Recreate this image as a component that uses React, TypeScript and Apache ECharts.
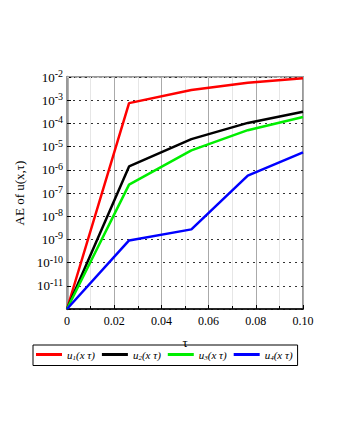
import React, { useEffect, useRef } from "react";
import * as echarts from "echarts";

const tau = [0, 0.0263, 0.0527, 0.0766, 0.1];
const u1 = [1e-12, 7.5e-4, 2.75e-3, 5.6e-3, 8.8e-3];
const u2 = [1e-12, 1.4e-6, 2.1e-5, 1.05e-4, 3.2e-4];
const u3 = [1e-12, 2.3e-7, 6.9e-6, 5.1e-5, 1.9e-4];
const u4 = [1e-12, 9e-10, 2.7e-9, 5.6e-7, 5.6e-6];
const seriesNames = ["1", "2", "3", "4"];
const seriesColors = ["#ff0000", "#000000", "#00ee00", "#0000ff"];
const minorGridValues = [5e-3, 5e-4, 5e-5, 5e-6, 5e-7, 5e-8, 5e-9, 5e-10, 5e-11, 5e-12];
const xTickLabels = ["0", "0.02", "0.04", "0.06", "0.08", "0.10"];

const serif = "Liberation Serif";

export default function App() {
  const ref = useRef<HTMLDivElement>(null);
  useEffect(() => {
    if (!ref.current) return;
    const chart = echarts.init(ref.current, undefined, { renderer: "svg" });
    const all = [u1, u2, u3, u4];
    const series: any[] = all.map((vals, i) => ({
      name: seriesNames[i],
      type: "line",
      data: tau.map((t, j) => [t, vals[j]]),
      symbol: "none",
      lineStyle: { color: seriesColors[i], width: 2.5 },
      itemStyle: { color: seriesColors[i] },
      z: 5 + i,
    }));
    series.unshift({
      name: "minor",
      type: "line",
      data: [],
      silent: true,
      z: 1,
      markLine: {
        silent: true,
        symbol: "none",
        label: { show: false },
        lineStyle: { color: "#c8c8c8", type: [2, 3], width: 1 },
        data: minorGridValues.map((v) => ({ yAxis: v })),
      },
    });
    chart.setOption({
      animation: false,
      textStyle: { fontFamily: serif },
      grid: {
        left: 67,
        top: 77,
        right: 35,
        bottom: 128,
        show: true,
        borderColor: "#999",
        borderWidth: 2,
      },
      legend: {
        data: seriesNames,
        left: 33,
        top: 345,
        padding: [4, 5, 4, 3],
        itemGap: 7,
        itemWidth: 26,
        itemHeight: 3,
        borderColor: "#000",
        borderWidth: 1,
        icon: "rect",
        formatter: (name: string) => `{u|u}{s|${name}}{n|(x τ)}`,
        textStyle: {
          fontFamily: serif,
          fontSize: 11,
          color: "#000",
          rich: {
            u: { fontFamily: serif, fontStyle: "italic", fontSize: 11, lineHeight: 14 },
            s: { fontFamily: serif, fontStyle: "italic", fontSize: 7, lineHeight: 7, verticalAlign: "bottom" },
            n: { fontFamily: serif, fontStyle: "italic", fontSize: 11, lineHeight: 14 },
          },
        },
      },
      xAxis: {
        type: "value",
        min: 0,
        max: 0.1,
        interval: 0.02,
        name: "τ",
        nameLocation: "middle",
        nameGap: 27,
        nameTextStyle: { fontFamily: serif, fontSize: 13, color: "#000" },
        axisLine: { show: true, onZero: false, lineStyle: { color: "#000", width: 1.5 } },
        axisTick: { show: true, inside: true, length: 4, lineStyle: { color: "#000" } },
        minorTick: { show: true, splitNumber: 2, length: 3, lineStyle: { color: "#000" } },
        axisLabel: {
          fontFamily: serif,
          fontSize: 12,
          color: "#000",
          margin: 6,
          formatter: (v: number) => xTickLabels[Math.round(v / 0.02)] ?? "",
        },
        splitLine: { show: true, lineStyle: { color: "#aaa", width: 1 } },
        minorSplitLine: { show: true, lineStyle: { color: "#e6e6e6", width: 1 } },
      },
      yAxis: {
        type: "log",
        logBase: 10,
        min: 1e-12,
        max: 1e-2,
        splitNumber: 10,
        name: "AE of u(x,τ)",
        nameLocation: "middle",
        nameGap: 40,
        nameTextStyle: { fontFamily: serif, fontSize: 13, color: "#000" },
        axisLine: { show: true, onZero: false, lineStyle: { color: "#999", width: 2.5 } },
        axisTick: { show: true, inside: true, length: 4, lineStyle: { color: "#000" } },
        axisLabel: {
          margin: 4,
          color: "#000",
          fontFamily: serif,
          formatter: (v: number) => {
            const e = Math.round(Math.log10(v));
            if (e <= -12) return "";
            return `{b|10}{s|${e}}`;
          },
          rich: {
            b: { fontFamily: serif, fontSize: 13, color: "#000" },
            s: { fontFamily: serif, fontSize: 10, color: "#000", verticalAlign: "top", padding: [0, 0, 7, 0] },
          },
        },
        splitLine: { show: true, lineStyle: { color: "#333", type: [2, 4], width: 1 } },
      },
      series,
    });
    return () => chart.dispose();
  }, []);
  return (
    <div
      ref={ref}
      style={{ position: "fixed", left: 0, top: 0, width: 338, height: 437, background: "#fff" }}
    />
  );
}
